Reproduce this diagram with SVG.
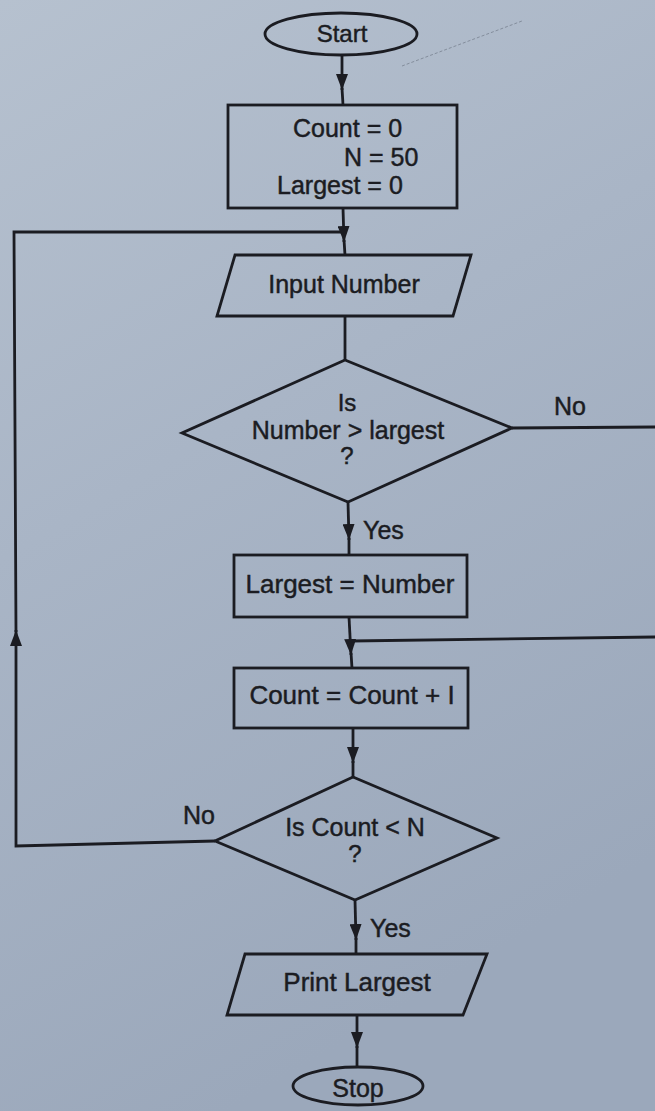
<svg xmlns="http://www.w3.org/2000/svg" width="655" height="1111" viewBox="0 0 655 1111">
  <defs>
    <linearGradient id="paper" x1="0" y1="0" x2="0.35" y2="1">
      <stop offset="0" stop-color="#b6c1cf"/>
      <stop offset="0.45" stop-color="#a9b5c6"/>
      <stop offset="1" stop-color="#9ba8bb"/>
    </linearGradient>
    <marker id="ah" markerUnits="userSpaceOnUse" markerWidth="16" markerHeight="12" refX="16" refY="6" orient="auto">
      <path d="M0,0 L16,6 L0,12 Z" fill="#1b1c22"/>
    </marker>
    <style>
      .shape { fill: none; stroke: #1b1c22; stroke-width: 2.8; stroke-linejoin: miter; }
      .wire { fill: none; stroke: #1b1c22; stroke-width: 2.8; }
      .lbl { font-family: "Liberation Sans", Arial, sans-serif; font-size: 25px; fill: #1b1c22; stroke: #1b1c22; stroke-width: 0.45; }
      .mid { text-anchor: middle; }
    </style>
  </defs>

  <!-- page -->
  <rect x="0" y="0" width="655" height="1111" fill="url(#paper)"/>
  <!-- faint pencil stroke on the page -->
  <line x1="402" y1="66" x2="522" y2="21" stroke="#5a6270" stroke-width="1" stroke-dasharray="3 2" opacity="0.5"/>

  <!-- connectors -->
  <g id="connectors">
    <line class="wire" x1="342" y1="55" x2="342" y2="90" marker-end="url(#ah)"/>
    <line class="wire" x1="342" y1="88" x2="343" y2="105"/>

    <line class="wire" x1="343" y1="208" x2="344" y2="242" marker-end="url(#ah)"/>
    <line class="wire" x1="344" y1="240" x2="345" y2="255"/>

    <line class="wire" x1="345" y1="316" x2="345" y2="360"/>

    <line class="wire" x1="348" y1="502" x2="349" y2="540" marker-end="url(#ah)"/>
    <line class="wire" x1="349" y1="538" x2="349" y2="555"/>

    <line class="wire" x1="349" y1="617" x2="351" y2="655" marker-end="url(#ah)"/>
    <line class="wire" x1="351" y1="653" x2="352" y2="668"/>

    <line class="wire" x1="353" y1="728" x2="353" y2="763" marker-end="url(#ah)"/>
    <line class="wire" x1="353" y1="761" x2="353" y2="777"/>

    <line class="wire" x1="355" y1="900" x2="356" y2="940" marker-end="url(#ah)"/>
    <line class="wire" x1="356" y1="938" x2="356" y2="954"/>

    <line class="wire" x1="357" y1="1015" x2="357" y2="1048" marker-end="url(#ah)"/>
    <line class="wire" x1="357" y1="1046" x2="357" y2="1067"/>

    <!-- "No" branch of first decision, leaving to the right and rejoining -->
    <line class="wire" x1="512" y1="428" x2="655" y2="427"/>
    <line class="wire" x1="655" y1="637" x2="351" y2="641"/>

    <!-- "No" branch of second decision, looping back to the input -->
    <polyline class="wire" points="215,841 16,846 16,630" marker-end="url(#ah)"/>
    <polyline class="wire" points="16,632 14,232 343,232"/>
  </g>

  <!-- nodes -->
  <g id="start">
    <ellipse class="shape" cx="341" cy="34" rx="76" ry="21"/>
    <text class="lbl mid" x="342" y="42" style="font-size:24px">Start</text>
  </g>

  <g id="init">
    <rect class="shape" x="228" y="105" width="229" height="103"/>
    <text class="lbl" x="293" y="137">Count = 0</text>
    <text class="lbl" x="344" y="166">N = 50</text>
    <text class="lbl" x="277" y="194">Largest = 0</text>
  </g>

  <g id="input-number">
    <polygon class="shape" points="235,255 471,255 453,316 217,316"/>
    <text class="lbl mid" x="344" y="293">Input Number</text>
  </g>

  <g id="check-largest">
    <polygon class="shape" points="345,360 512,428 348,502 182,433"/>
    <text class="lbl mid" x="347" y="411" style="font-size:24px">Is</text>
    <text class="lbl mid" x="348" y="439">Number &gt; largest</text>
    <text class="lbl mid" x="347" y="464" style="font-size:24px">?</text>
    <text class="lbl" x="554" y="415">No</text>
    <text class="lbl" x="363" y="539">Yes</text>
  </g>

  <g id="set-largest">
    <rect class="shape" x="234" y="555" width="233" height="62"/>
    <text class="lbl mid" x="350" y="593" style="font-size:26px">Largest = Number</text>
  </g>

  <g id="increment">
    <rect class="shape" x="234" y="668" width="234" height="60"/>
    <text class="lbl mid" x="352" y="704" style="font-size:26px">Count = Count + I</text>
  </g>

  <g id="check-count">
    <polygon class="shape" points="353,777 497,838 355,900 215,841"/>
    <text class="lbl mid" x="355" y="836">Is Count &lt; N</text>
    <text class="lbl mid" x="355" y="862" style="font-size:24px">?</text>
    <text class="lbl" x="183" y="824">No</text>
    <text class="lbl" x="370" y="937">Yes</text>
  </g>

  <g id="print-largest">
    <polygon class="shape" points="245,954 487,954 463,1015 227,1015"/>
    <text class="lbl mid" x="357" y="991" style="font-size:26px">Print Largest</text>
  </g>

  <g id="stop">
    <ellipse class="shape" cx="358" cy="1086" rx="65" ry="19"/>
    <text class="lbl mid" x="358" y="1097">Stop</text>
  </g>
</svg>
